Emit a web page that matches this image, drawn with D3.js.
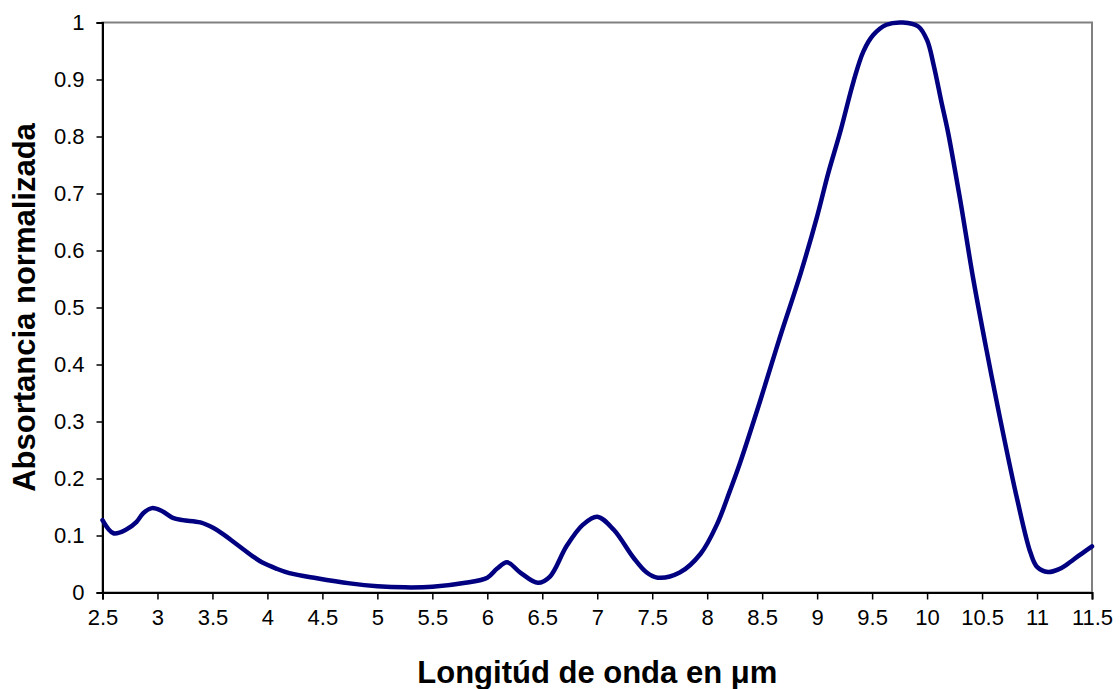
<!DOCTYPE html>
<html>
<head>
<meta charset="utf-8">
<script src="https://cdn.jsdelivr.net/npm/d3@7"></script>
<style>
  html, body { margin: 0; padding: 0; background: #fff; }
  svg { display: block; font-family: "Liberation Sans", Arial, sans-serif; }
</style>
</head>
<body>
<svg id="chart" width="1120" height="689"></svg>
<script>
// Absorption spectrum: wavelength (µm) vs normalized absorptance
const wavelength = [
  2.5, 2.6, 2.72, 2.81, 2.87, 2.95, 3.04, 3.14, 3.23, 3.39, 3.51, 3.6, 3.69,
  3.78, 3.87, 3.95, 4.08, 4.2, 4.45, 4.75, 5.0, 5.25, 5.5, 5.8, 6.0, 6.09,
  6.18, 6.3, 6.46, 6.57, 6.72, 6.87, 7.0, 7.15, 7.33, 7.45, 7.55, 7.75, 7.94,
  8.09, 8.21, 8.3, 8.48, 8.66, 8.85, 9.0, 9.1, 9.21, 9.33, 9.42, 9.51, 9.63,
  9.78, 9.92, 10.0, 10.06, 10.13, 10.19, 10.3, 10.42, 10.54, 10.66, 10.82,
  10.94, 11.0, 11.1, 11.2, 11.27, 11.39, 11.5
];
const absortancia = [
  0.127, 0.104, 0.111, 0.124, 0.139, 0.148, 0.143, 0.131, 0.127, 0.123, 0.113, 0.102, 0.089,
  0.076, 0.063, 0.053, 0.042, 0.034, 0.025, 0.016, 0.011, 0.009, 0.01, 0.017, 0.026, 0.042,
  0.053, 0.035, 0.017, 0.028, 0.081, 0.119, 0.133, 0.11, 0.061, 0.035, 0.026, 0.035, 0.068,
  0.12, 0.18, 0.228, 0.335, 0.447, 0.56, 0.66, 0.735, 0.808, 0.896, 0.949, 0.978, 0.996,
  1.0, 0.993, 0.969, 0.925, 0.861, 0.808, 0.69, 0.55, 0.426, 0.309, 0.163,
  0.07, 0.045, 0.036, 0.041, 0.049, 0.066, 0.081
];
const xTicks = [2.5, 3, 3.5, 4, 4.5, 5, 5.5, 6, 6.5, 7, 7.5, 8, 8.5, 9, 9.5, 10, 10.5, 11, 11.5];
const yTicks = [0, 0.1, 0.2, 0.3, 0.4, 0.5, 0.6, 0.7, 0.8, 0.9, 1];
const xTitle = "Longitúd de onda en μm";
const yTitle = "Absortancia normalizada";

const svg = d3.select("#chart");
const plotLeft = 102.5, plotRight = 1092, plotTop = 22.5, plotBottom = 592.5;

const x = d3.scaleLinear().domain([2.5, 11.5]).range([plotLeft, plotRight]);
const y = d3.scaleLinear().domain([0, 1]).range([plotBottom, plotTop]);

// plot frame (gray top/right border)
svg.append("rect")
  .attr("x", plotLeft).attr("y", plotTop)
  .attr("width", plotRight - plotLeft).attr("height", plotBottom - plotTop)
  .attr("fill", "#fff").attr("stroke", "#808080").attr("stroke-width", 2);

// y axis
const yAxis = svg.append("g")
  .attr("transform", `translate(${plotLeft},0)`)
  .call(d3.axisLeft(y).tickValues(yTicks).tickSize(6).tickPadding(12)
    .tickFormat(d => String(+d.toFixed(1))));
// x axis
const xAxis = svg.append("g")
  .attr("transform", `translate(0,${plotBottom})`)
  .call(d3.axisBottom(x).tickValues(xTicks).tickSize(7).tickPadding(10)
    .tickFormat(d => String(d)));

[yAxis, xAxis].forEach(g => {
  g.select(".domain").attr("stroke", "#000").attr("stroke-width", 2);
  g.selectAll(".tick line").attr("stroke", "#000").attr("stroke-width", 1.5);
  g.selectAll(".tick text")
    .attr("fill", "#000")
    .style("font-size", "22px")
    .style("font-family", "'Liberation Sans', Arial, sans-serif");
});

// spectrum curve
const line = d3.line()
  .x((d, i) => x(wavelength[i]))
  .y(d => y(d))
  .curve(d3.curveCatmullRom.alpha(0.5));

svg.append("path")
  .datum(absortancia)
  .attr("d", line)
  .attr("fill", "none")
  .attr("stroke", "#000080")
  .attr("stroke-width", 4.5)
  .attr("stroke-linejoin", "round")
  .attr("stroke-linecap", "round");

// axis titles
svg.append("text")
  .attr("x", (plotLeft + plotRight) / 2).attr("y", 683)
  .attr("text-anchor", "middle")
  .style("font-size", "31px").style("font-weight", "bold")
  .text(xTitle);

svg.append("text")
  .attr("transform", `translate(35,${(plotTop + plotBottom) / 2}) rotate(-90)`)
  .attr("text-anchor", "middle")
  .style("font-size", "31px").style("font-weight", "bold")
  .text(yTitle);
</script>
</body>
</html>
